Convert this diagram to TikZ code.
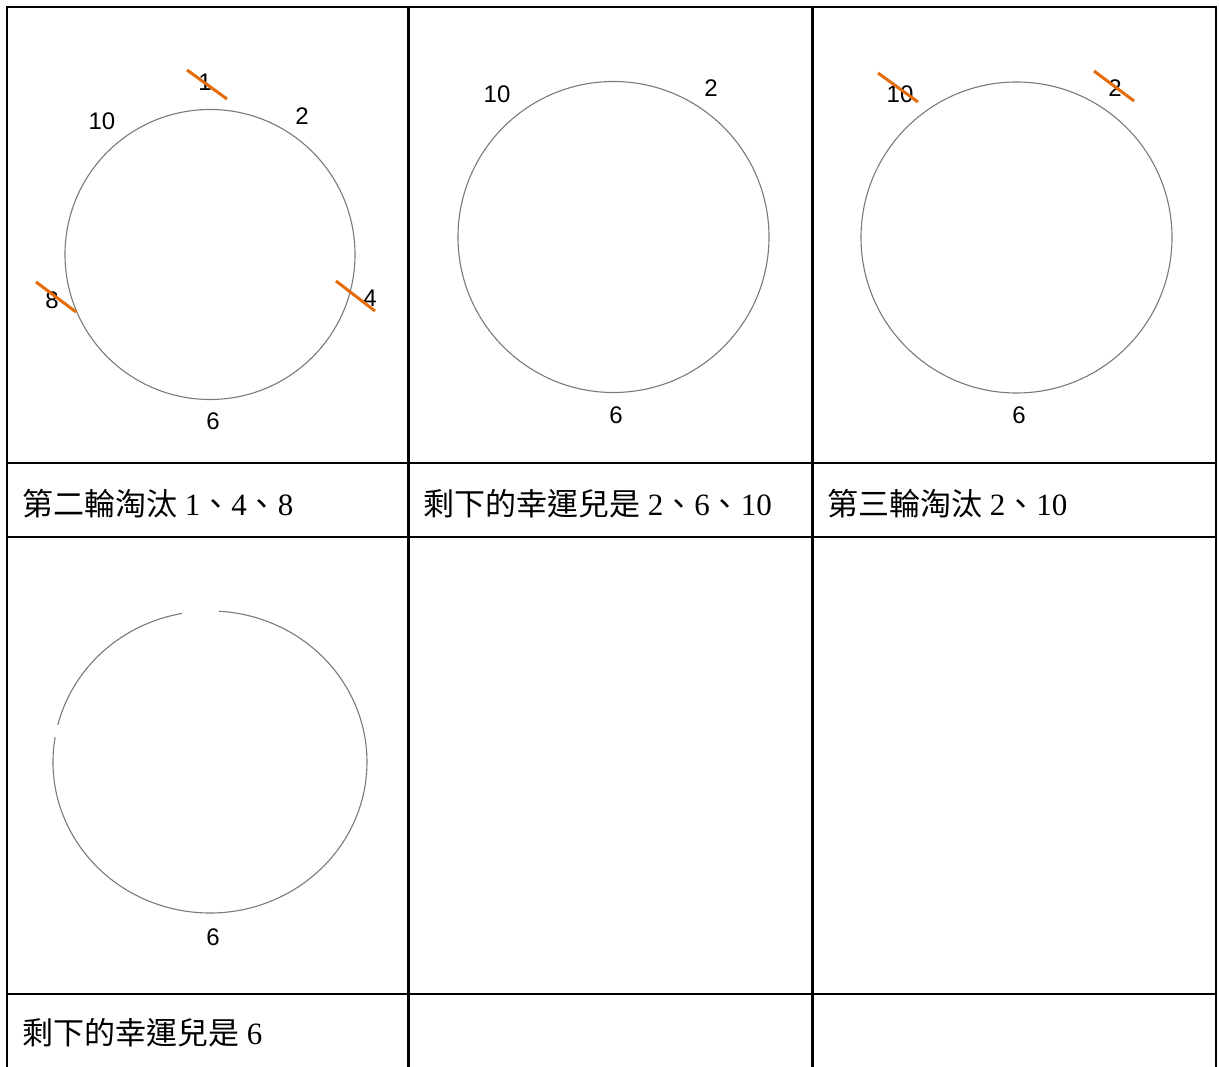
\documentclass[tikz,border=0pt]{standalone}
\usepackage{fontspec}
\setmainfont{Liberation Serif}
\newfontfamily\cjk{Noto Sans CJK TC}
\newfontfamily\arialf{Liberation Sans}
\definecolor{ringgray}{HTML}{7A7A7A}
\definecolor{strikeorange}{HTML}{E46C0A}
\begin{document}
\begin{tikzpicture}[x=1pt,y=1pt,
  gridline/.style={line width=2.3pt, black},
  ring/.style={draw=ringgray, line width=1.1pt, circle, inner sep=0pt, outer sep=0pt},
  ringarc/.style={draw=ringgray, line width=1.1pt},
  num/.style={font=\arialf\fontsize{24}{24}\selectfont, inner sep=0pt},
  strike/.style={draw=strikeorange, line width=3pt},
  caption/.style={font=\fontsize{31}{31}\selectfont, anchor=base west, inner sep=0pt}]
\useasboundingbox[fill=white] (0,0) rectangle (1219,-1067);

% table grid
\draw[gridline] (7,-1067) -- (7,-7) -- (1216,-7) -- (1216,-1067);
\draw[gridline] (408.5,-7) -- (408.5,-1067);
\draw[gridline] (812.5,-7) -- (812.5,-1067);
\draw[gridline] (7,-463) -- (1216,-463);
\draw[gridline] (7,-537) -- (1216,-537);
\draw[gridline] (7,-994) -- (1216,-994);

% panel 1
\node[ring, minimum size=290pt] (c1) at (210,-254.5) {};
\node[num] (p1n1) at (205,-82) {1};
\node[num] (p1n10) at (102,-121) {10};
\node[num] (p1n2) at (302,-116) {2};
\node[num] (p1n8) at (52,-300) {8};
\node[num] (p1n4) at (370,-298) {4};
\node[num] (p1n6) at (213,-421) {6};
\draw[strike] ([shift={(-18,12)}]p1n1.center) -- ([shift={(22,-17)}]p1n1.center);
\draw[strike] ([shift={(-16,18)}]p1n8.center) -- ([shift={(24,-12)}]p1n8.center);
\draw[strike] ([shift={(-34,17)}]p1n4.center) -- ([shift={(5,-13)}]p1n4.center);

% panel 2
\node[ring, minimum size=311pt] (c2) at (613.5,-237) {};
\node[num] (p2n10) at (497,-94) {10};
\node[num] (p2n2) at (711,-88) {2};
\node[num] (p2n6) at (616,-415) {6};

% panel 3
\node[ring, minimum size=311pt] (c3) at (1016.5,-237.5) {};
\node[num] (p3n10) at (900,-94) {10};
\node[num] (p3n2) at (1115,-88) {2};
\node[num] (p3n6) at (1019,-415) {6};
\draw[strike] ([shift={(-22,21)}]p3n10.center) -- ([shift={(18,-8)}]p3n10.center);
\draw[strike] ([shift={(-21,17)}]p3n2.center) -- ([shift={(19,-13)}]p3n2.center);

% panel 4 (broken ring)
\coordinate (c4) at (210,-762);
\draw[ringarc] ([shift={(100.3:157 and 151)}]c4) arc[start angle=100.3, end angle=165.8, x radius=157, y radius=151];
\draw[ringarc] ([shift={(170.5:157 and 151)}]c4) arc[start angle=170.5, end angle=446.7, x radius=157, y radius=151];
\node[num] (p4n6) at (213,-937) {6};

% captions
\node[caption] (t1) at (22,-515) {{\cjk 第二輪淘汰} 1{\cjk 、}4{\cjk 、}8};
\node[caption] (t2) at (423,-515) {{\cjk 剩下的幸運兒是} 2{\cjk 、}6{\cjk 、}10};
\node[caption] (t3) at (827,-515) {{\cjk 第三輪淘汰} 2{\cjk 、}10};
\node[caption] (t4) at (22,-1044) {{\cjk 剩下的幸運兒是} 6};
\end{tikzpicture}
\end{document}
